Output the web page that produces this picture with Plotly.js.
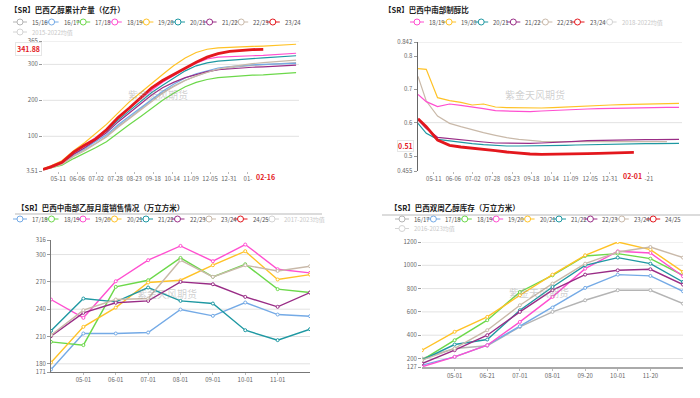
<!DOCTYPE html>
<html><head><meta charset="utf-8">
<script src="https://cdn.plot.ly/plotly-3.0.1.min.js"></script>
<style>html,body{margin:0;padding:0;background:#fff}#c{width:700px;height:398px}</style>
</head><body><div id="c"></div>
<script>
// ---------- DATA ----------
const seasonDates = ['2023-04-20','2023-05-01','2023-05-16','2023-06-01','2023-06-16','2023-07-01','2023-07-16','2023-08-01','2023-08-16','2023-09-01','2023-09-16','2023-10-01','2023-10-16','2023-11-01','2023-11-16','2023-12-01','2023-12-16','2024-01-01','2024-01-16','2024-02-01','2024-02-16','2024-03-01','2024-03-16','2024-04-01'];
// tick labels as visible in the reference (partly covered by the red date labels)
const prodTickVals = ['2023-05-11','2023-06-06','2023-07-02','2023-07-28','2023-08-23','2023-09-18','2023-10-14','2023-11-09','2023-12-05','2023-12-31','2024-01-26'];
const prodTickText = ['05-11','06-06','07-02','07-28','08-23','09-18','10-14','11-09','12-05','12-31','01-'];
const mixTickDates = ['2023-05-11','2023-06-06','2023-07-02','2023-07-28','2023-08-23','2023-09-18','2023-10-14','2023-11-09','2023-12-05','2023-12-31','2024-02-21'];
const mixTickDateText = ['05-11','06-06','07-02','07-28','08-23','09-18','10-14','11-09','12-05','12-31','-21'];

// Chart 1: cumulative ethanol production (亿升)
const prodNames = ['15/16','16/17','17/18','18/19','19/20','20/21','21/22','22/23','23/24','2015-2022均值'];
const prod1516 = [7,13,23,46,62,80,100,128,150,176,200,222,240,256,268,278,285,290,294,297,299,301,303,305];
const prod1617 = [9,15,26,50,66,84,104,132,155,180,202,225,245,262,274,283,290,294,297,299,300,301,302,303];
const prod1718 = [7,12,20,38,52,68,85,110,132,155,178,200,220,238,250,258,263,266,268,270,271,273,275,277];
const prod1819 = [9,17,30,58,78,96,120,152,178,205,228,250,268,288,303,315,320,322,323,324,325,327,329,331];
const prod1920 = [10,18,32,60,82,108,133,165,195,222,248,272,296,318,333,342,346,348,349,350,351,352,354,356];
const prod2021 = [9,16,28,55,74,93,115,145,170,198,222,242,262,282,296,304,309,312,314,316,318,320,322,324];
const prod2122 = [8,14,25,50,68,88,110,140,165,192,215,235,250,263,272,280,285,288,290,292,293,294,296,298];
const prod2223 = [7,12,22,44,60,78,98,125,148,174,198,220,238,255,268,278,287,293,298,302,305,307,309,312];
const prod2324 = [8,15,28,56,75,92,118,152,178,208,235,255,272,290,306,320,330,336,339,341,341.88];
const prodTicks = [3.51,100,200,300,365];
const prodLast = '341.88', prodLastDate = '02-16';

// Chart 2: ethanol mix ratio
const mixNames = ['18/19','19/20','20/21','21/22','22/23','23/24','2018-2022均值'];
const mix1819 = [0.685,0.663,0.648,0.656,0.652,0.646,0.642,0.636,0.635,0.634,0.633,0.635,0.637,0.638,0.640,0.641,0.642,0.643,0.643,0.644,0.645,0.645,0.646,0.646];
const mix1920 = [0.762,0.760,0.675,0.666,0.661,0.653,0.656,0.647,0.645,0.644,0.643,0.644,0.645,0.647,0.649,0.651,0.652,0.653,0.654,0.655,0.655,0.656,0.657,0.658];
const mix2021 = [0.598,0.568,0.550,0.545,0.540,0.537,0.534,0.531,0.530,0.530,0.530,0.530,0.531,0.532,0.533,0.534,0.535,0.536,0.536,0.537,0.537,0.537,0.538,0.538];
const mix2122 = [0.608,0.582,0.556,0.552,0.548,0.545,0.542,0.539,0.538,0.538,0.538,0.539,0.540,0.542,0.544,0.546,0.547,0.548,0.548,0.549,0.549,0.549,0.550,0.550];
const mix2223 = [0.739,0.665,0.620,0.598,0.588,0.578,0.570,0.562,0.555,0.550,0.546,0.544,0.543,0.543,0.543,0.543,0.543,0.543,0.543,0.543,0.543,0.543,0.543];
const mix2324 = [0.612,0.588,0.548,0.532,0.527,0.524,0.521,0.516,0.512,0.508,0.506,0.505,0.505,0.506,0.507,0.507,0.508,0.509,0.510,0.511];
const mixTicks = [0.455,0.5,0.6,0.7,0.8,0.842];
const mixTickText = ['0.455','0.5','0.6','0.7','0.8','0.842'];
const mixLast = '0.51', mixLastDate = '02-01';

// Chart 3: monthly ethanol sales (万立方米)
const salesNames = ['17/18','18/19','19/20','20/21','21/22','22/23','23/24','24/25','2017-2023均值'];
const salesMonths = ['04-01','05-01','06-01','07-01','08-01','09-01','10-01','11-01','12-01'];
const salesTickLabels = ['05-01','06-01','07-01','08-01','09-01','10-01','11-01'];
const sales1718 = [173.8,213.3,213.3,214.4,239.6,232.7,247.3,234.1,232.3];
const sales1819 = [204.1,200.5,264.5,271.8,296.3,275.5,289.4,262.0,258.3];
const sales1920 = [250.6,230.5,270.7,293.8,309.5,292.7,311.0,283.9,279.9];
const sales2021 = [181.4,220.6,241.8,269.3,271.8,288.3,303.7,272.6,278.0];
const sales2122 = [216.2,251.7,248.0,263.8,249.1,246.2,216.9,206.0,218.0];
const sales2223 = [210.4,236.0,247.0,249.1,270.0,267.4,253.5,242.6,258.3];
const sales2324 = [211.5,238.9,250.6,251.7,293.8,275.5,288.3,282.0,287.2];
const salesTicks = [171,180,210,240,270,300,316];

// Chart 4: ethanol stocks (万立方米)
const stockNames = ['16/17','17/18','18/19','19/20','20/21','21/22','22/23','23/24','24/25','2016-2023均值'];
const stockDates = ['04-01','05-01','06-21','07-01','08-01','09-20','10-01','11-20','12-01'];
const stockTickLabels = ['05-01','06-21','07-01','08-01','09-20','10-01','11-20'];
const stock1617 = [200,286,309,471,600,700,786,786,671];
const stock1718 = [143,214,314,477,637,806,920,909,777];
const stock1819 = [186,357,529,771,914,1080,1100,1057,914];
const stock1920 = [129,214,314,514,729,971,1120,1106,906];
const stock2021 = [271,429,557,743,920,1086,1200,1135,943];
const stock2122 = [186,320,363,614,814,1000,1066,1014,857];
const stock2223 = [157,271,400,600,786,920,957,966,834];
const stock2324 = [186,286,443,657,843,1014,1114,1157,1066];
const stockTicks = [127,200,400,600,800,1000,1200];

// ---------- STYLE ----------
const COL = {gray:'#b4b4b4', blue:'#74aae6', green:'#6cd84a', pink:'#ff4fd0', orange:'#ffc226', teal:'#1e98a2', purple:'#992c86', tan:'#c9b9a9', red:'#e3171d', off:'#d4d4d4'};
const FONT = '"Noto Sans CJK SC", "Noto Sans", sans-serif';
const W = 700, H = 398;
const px = x => x / W, py = y => 1 - y / H;

const traces = [];
function line(x, y, ax, color, width, markers) {
  traces.push({x: x, y: y, xaxis: 'x' + ax, yaxis: 'y' + ax, type: 'scatter',
    mode: markers ? 'lines+markers' : 'lines', line: {color: color, width: width},
    marker: {size: 3, color: '#fff', line: {color: color, width: 1}},
    showlegend: false, hoverinfo: 'skip'});
}
// chart 1
[[prod1516,COL.gray],[prod1617,COL.blue],[prod1718,COL.green],[prod1819,COL.pink],[prod1920,COL.orange],[prod2021,COL.teal],[prod2122,COL.purple],[prod2223,COL.tan]]
  .forEach(s => line(seasonDates.slice(0, s[0].length), s[0], '', s[1], 1.2));
line(seasonDates.slice(0, prod2324.length), prod2324, '', COL.red, 2.8);
// chart 2
[[mix2223,COL.tan],[mix1819,COL.pink],[mix1920,COL.orange],[mix2021,COL.teal],[mix2122,COL.purple]]
  .forEach(s => line(seasonDates.slice(0, s[0].length), s[0], '2', s[1], 1.2));
line(seasonDates.slice(0, mix2324.length), mix2324, '2', COL.red, 2.8);
// chart 3
[[sales1718,COL.blue],[sales1819,COL.green],[sales1920,COL.pink],[sales2021,COL.orange],[sales2122,COL.teal],[sales2223,COL.purple],[sales2324,COL.tan]]
  .forEach(s => line(salesMonths, s[0], '3', s[1], 1.4, true));
// chart 4
[[stock1617,COL.gray],[stock1718,COL.blue],[stock1819,COL.green],[stock1920,COL.pink],[stock2021,COL.orange],[stock2122,COL.teal],[stock2223,COL.purple],[stock2324,COL.tan]]
  .forEach(s => line(stockDates, s[0], '4', s[1], 1.4, true));

const shapes = [], annotations = [];
function text(t, x, y, opt) {
  annotations.push(Object.assign({text: t, x: px(x), y: py(y), xref: 'paper', yref: 'paper', showarrow: false,
    xanchor: 'left', yanchor: 'middle', font: {family: FONT, size: 6, color: '#555'}}, opt || {}));
}
function legend(names, colors, hidden, x0, y, dx, perRow, dy) {
  names.forEach((n, i) => {
    const r = Math.floor(i / perRow), c = i % perRow;
    const cx = x0 + c * dx, cy = y + r * dy;
    const col = hidden[i] ? COL.off : colors[i];
    shapes.push({type: 'line', xref: 'paper', yref: 'paper', x0: px(cx - 7), x1: px(cx + 7), y0: py(cy), y1: py(cy), line: {color: col, width: 1}});
    shapes.push({type: 'circle', xref: 'paper', yref: 'paper', x0: px(cx - 3), x1: px(cx + 3), y0: py(cy - 3), y1: py(cy + 3), line: {color: col, width: 1}, fillcolor: '#fff'});
    text(n, cx + 10, cy, {font: {family: FONT, size: 6, color: hidden[i] ? '#c8c8c8' : '#555'}});
  });
}
function grid(vals, ax) {
  vals.forEach(v => shapes.push({type: 'line', xref: 'x' + ax + ' domain', yref: 'y' + ax, x0: 0, x1: 1, y0: v, y1: v, layer: 'below', line: {color: '#e2e2e2', width: 1}}));
}
function title(t, x, y) { text(t, x, y, {font: {family: FONT, size: 7.5, color: '#222', weight: 'bold'}}); }
function watermark(x, y) { text('紫金天风期货', x, y, {xanchor: 'center', font: {family: FONT, size: 10, color: 'rgba(150,150,150,0.45)'}}); }

// titles
title('【SR】巴西乙醇累计产量（亿升）', 8, 9);
title('【SR】巴西中南部制醇比', 382, 9);
title('【SR】巴西中南部乙醇月度销售情况（万立方米）', 15, 207);
title('【SR】巴西双周乙醇库存（万立方米）', 388, 207);
shapes.push({type: 'line', xref: 'paper', yref: 'paper', x0: px(15), x1: px(322), y0: py(214), y1: py(214), line: {color: '#d0d0d0', width: 1.5}});
shapes.push({type: 'line', xref: 'paper', yref: 'paper', x0: px(382), x1: px(700), y0: py(215), y1: py(215), line: {color: '#d0d0d0', width: 1.5}});

// legends
legend(prodNames, [COL.gray,COL.blue,COL.green,COL.pink,COL.orange,COL.teal,COL.purple,COL.tan,COL.red,COL.off],
  [0,0,0,0,0,0,0,0,0,1], 20, 22, 31.6, 9, 10);
legend(mixNames, [COL.pink,COL.orange,COL.teal,COL.purple,COL.tan,COL.red,COL.off], [0,0,0,0,0,0,1], 417, 22, 32.1, 7, 10);
legend(salesNames, [COL.blue,COL.green,COL.pink,COL.orange,COL.teal,COL.purple,COL.tan,COL.red,COL.off],
  [0,0,0,0,0,0,0,0,1], 20, 219, 31.5, 9, 10);
legend(stockNames, [COL.gray,COL.blue,COL.green,COL.pink,COL.orange,COL.teal,COL.purple,COL.tan,COL.red,COL.off],
  [0,0,0,0,0,0,0,0,0,1], 402, 219, 31.4, 9, 9.5);

// gridlines
grid([100,200,300,365], '');
grid([0.6,0.842], '2');
grid([180,210,240,270,300], '3');
grid([200,400,600,800,1000,1200], '4');

// watermarks
watermark(158, 95); watermark(535, 94); watermark(167, 293); watermark(539, 292);

// highlighted current values
annotations.push({text: '<b>' + prodLast + '</b>', xref: 'paper', yref: 'y', x: px(28), y: prod2324[prod2324.length - 1],
  showarrow: false, xanchor: 'center', yanchor: 'middle', bgcolor: '#fff', bordercolor: '#e6e6e6', borderpad: 1,
  font: {family: FONT, size: 7, color: COL.red}});
annotations.push({text: '<b>' + prodLastDate + '</b>', xref: 'x', yref: 'paper', x: seasonDates[prod2324.length - 1], y: py(177),
  showarrow: false, xanchor: 'center', yanchor: 'middle', bgcolor: '#fff', borderpad: 1, xshift: 2,
  font: {family: FONT, size: 7, color: COL.red}});
annotations.push({text: '<b>' + mixLast + '</b>', xref: 'paper', yref: 'y2', x: px(405), y: mix2324[mix2324.length - 1],
  showarrow: false, xanchor: 'center', yanchor: 'middle', bgcolor: '#fff', bordercolor: '#e6e6e6', borderpad: 0, yshift: 6,
  font: {family: FONT, size: 7, color: COL.red}});
annotations.push({text: '<b>' + mixLastDate + '</b>', xref: 'x2', yref: 'paper', x: seasonDates[mix2324.length - 1], y: py(176),
  showarrow: false, xanchor: 'center', yanchor: 'middle', bgcolor: '#fff', borderpad: 1, xshift: -1,
  font: {family: FONT, size: 7, color: COL.red}});

const tickFont = {family: FONT, size: 6, color: '#666'};
const baseX = {showgrid: false, zeroline: false, tickfont: tickFont, ticks: 'outside', ticklen: 2, tickcolor: '#bbb', fixedrange: true};
const baseY = {showgrid: false, zeroline: false, tickfont: tickFont, ticks: 'outside', ticklen: 3, tickcolor: '#999', fixedrange: true};

const layout = {
  width: W, height: H, margin: {l: 0, r: 0, t: 0, b: 0}, paper_bgcolor: '#fff', plot_bgcolor: 'rgba(0,0,0,0)',
  showlegend: false, font: {family: FONT},
  xaxis: Object.assign({}, baseX, {domain: [px(43), px(299)], anchor: 'y', type: 'date', range: ['2023-04-20', '2024-04-05'],
    tickmode: 'array', tickvals: prodTickVals, ticktext: prodTickText, showline: false}),
  yaxis: Object.assign({}, baseY, {domain: [py(171), py(41)], anchor: 'x', range: [3.51, 365],
    tickmode: 'array', tickvals: prodTicks, ticktext: prodTicks.map(String)}),
  xaxis2: Object.assign({}, baseX, {domain: [px(418), px(682)], anchor: 'y2', type: 'date', range: ['2023-04-20', '2024-04-05'],
    tickmode: 'array', tickvals: mixTickDates, ticktext: mixTickDateText, showline: false}),
  yaxis2: Object.assign({}, baseY, {domain: [py(171), py(42)], anchor: 'x2', range: [0.455, 0.842],
    tickmode: 'array', tickvals: mixTicks, ticktext: mixTickText, showline: true, linecolor: '#666', linewidth: 1.5}),
  xaxis3: Object.assign({}, baseX, {domain: [px(51), px(310)], anchor: 'y3', type: 'category', range: [0, salesMonths.length - 1],
    tickmode: 'array', tickvals: salesTickLabels, ticktext: salesTickLabels, showline: true, linecolor: '#777', linewidth: 1}),
  yaxis3: Object.assign({}, baseY, {domain: [py(372), py(240)], anchor: 'x3', range: [171, 316],
    tickmode: 'array', tickvals: salesTicks, ticktext: salesTicks.map(String), showline: true, linecolor: '#777', linewidth: 1}),
  xaxis4: Object.assign({}, baseX, {domain: [px(422), px(683)], anchor: 'y4', type: 'category', range: [0, stockDates.length - 1],
    tickmode: 'array', tickvals: stockTickLabels, ticktext: stockTickLabels, showline: true, linecolor: '#aaa', linewidth: 2}),
  yaxis4: Object.assign({}, baseY, {domain: [py(367), py(242)], anchor: 'x4', range: [127, 1200],
    tickmode: 'array', tickvals: stockTicks, ticktext: stockTicks.map(String), showline: false}),
  shapes: shapes, annotations: annotations
};
Plotly.newPlot('c', traces, layout, {displayModeBar: false, staticPlot: true});
</script></body></html>
